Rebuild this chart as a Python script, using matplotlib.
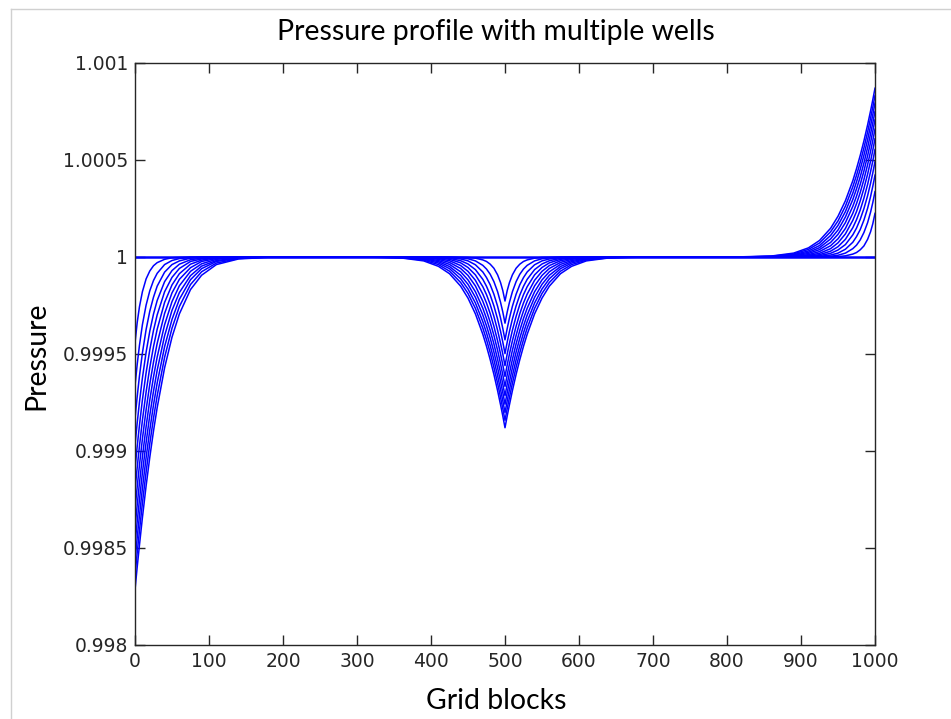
import numpy as np
import matplotlib
matplotlib.use("Agg")
import matplotlib.pyplot as plt
from matplotlib.lines import Line2D

# ---------------- data ----------------
# Deviations from the initial pressure, in units of 1e-5, for 12 successive
# time steps, tabulated against the distance (in grid blocks) from each well.
offsets = [0, 3, 6, 10, 15, 20, 25, 30, 40, 50, 60, 75, 90, 110, 140, 180]

# producer at block 0 (one-sided drawdown)
left_drawdown_1e5 = [
    [44.3, 33.7, 25.7, 17.9, 11.3, 7.2, 4.5, 2.9, 1.2, 0.4, 0.2, 0, 0, 0, 0, 0],
    [66.5, 55.2, 45.6, 34.9, 24.8, 17.4, 12.1, 8.4, 3.9, 1.8, 0.8, 0.2, 0, 0, 0, 0],
    [83.3, 71.8, 61.4, 49.5, 37.4, 27.9, 20.7, 15.0, 7.8, 3.9, 2.0, 0.6, 0.2, 0, 0, 0],
    [97.1, 85.4, 74.9, 62.4, 49.1, 38.2, 29.4, 22.4, 12.7, 7.0, 3.7, 1.4, 0.6, 0.2, 0, 0],
    [109.2, 97.5, 86.8, 73.7, 59.7, 47.8, 37.8, 29.8, 17.9, 10.5, 5.9, 2.3, 1.0, 0.2, 0, 0],
    [120.1, 108.4, 97.5, 84.2, 69.6, 56.9, 46.2, 37.2, 23.4, 14.4, 8.6, 3.7, 1.6, 0.4, 0, 0],
    [130.1, 118.4, 107.4, 93.8, 78.8, 65.5, 54.2, 44.5, 29.1, 18.5, 11.5, 5.5, 2.3, 0.8, 0.2, 0],
    [139.4, 127.7, 116.6, 103.0, 87.4, 73.7, 61.8, 51.5, 34.9, 23.0, 14.8, 7.4, 3.5, 1.2, 0.2, 0],
    [148.0, 136.3, 125.2, 111.3, 95.6, 81.5, 69.2, 58.3, 40.6, 27.5, 18.3, 9.6, 4.7, 1.8, 0.4, 0],
    [156.4, 144.5, 133.4, 119.3, 103.4, 89.1, 76.2, 64.9, 46.2, 32.2, 21.8, 11.7, 6.0, 2.3, 0.6, 0],
    [164.2, 152.3, 141.2, 126.9, 110.8, 96.1, 83.1, 71.4, 51.7, 36.7, 25.5, 14.2, 7.6, 3.1, 0.8, 0],
    [171.6, 159.7, 148.6, 134.4, 118.0, 103.2, 89.7, 77.6, 57.1, 41.3, 29.3, 16.8, 9.4, 3.9, 1.0, 0.2],
]

# producer at block 500 (symmetric drawdown on both sides)
mid_drawdown_1e5 = [
    [22.7, 17.3, 13.2, 9.2, 5.8, 3.7, 2.3, 1.5, 0.6, 0.2, 0.1, 0, 0, 0, 0, 0],
    [34.1, 28.3, 23.4, 17.9, 12.7, 8.9, 6.2, 4.3, 2.0, 0.9, 0.4, 0.1, 0, 0, 0, 0],
    [42.7, 36.8, 31.5, 25.4, 19.2, 14.3, 10.6, 7.7, 4.0, 2.0, 1.0, 0.3, 0.1, 0, 0, 0],
    [49.8, 43.8, 38.4, 32.0, 25.2, 19.6, 15.1, 11.5, 6.5, 3.6, 1.9, 0.7, 0.3, 0.1, 0, 0],
    [56.0, 50.0, 44.5, 37.8, 30.6, 24.5, 19.4, 15.3, 9.2, 5.4, 3.0, 1.2, 0.5, 0.1, 0, 0],
    [61.6, 55.6, 50.0, 43.2, 35.7, 29.2, 23.7, 19.1, 12.0, 7.4, 4.4, 1.9, 0.8, 0.2, 0, 0],
    [66.7, 60.7, 55.1, 48.1, 40.4, 33.6, 27.8, 22.8, 14.9, 9.5, 5.9, 2.8, 1.2, 0.4, 0.1, 0],
    [71.5, 65.5, 59.8, 52.8, 44.8, 37.8, 31.7, 26.4, 17.9, 11.8, 7.6, 3.8, 1.8, 0.6, 0.1, 0],
    [75.9, 69.9, 64.2, 57.1, 49.0, 41.8, 35.5, 29.9, 20.8, 14.1, 9.4, 4.9, 2.4, 0.9, 0.2, 0],
    [80.2, 74.1, 68.4, 61.2, 53.0, 45.7, 39.1, 33.3, 23.7, 16.5, 11.2, 6.0, 3.1, 1.2, 0.3, 0],
    [84.2, 78.1, 72.4, 65.1, 56.8, 49.3, 42.6, 36.6, 26.5, 18.8, 13.1, 7.3, 3.9, 1.6, 0.4, 0],
    [88.0, 81.9, 76.2, 68.9, 60.5, 52.9, 46.0, 39.8, 29.3, 21.2, 15.0, 8.6, 4.8, 2.0, 0.5, 0.1],
]

# injector at block 1000 (one-sided pressure rise)
right_rise_1e5 = [
    [22.5, 17.1, 13.0, 9.1, 5.7, 3.7, 2.3, 1.5, 0.6, 0.2, 0.1, 0, 0, 0, 0, 0],
    [33.7, 28.0, 23.1, 17.7, 12.6, 8.8, 6.1, 4.3, 2.0, 0.9, 0.4, 0.1, 0, 0, 0, 0],
    [42.2, 36.4, 31.1, 25.1, 19.0, 14.1, 10.5, 7.6, 4.0, 2.0, 1.0, 0.3, 0.1, 0, 0, 0],
    [49.2, 43.3, 38.0, 31.6, 24.9, 19.4, 14.9, 11.4, 6.4, 3.6, 1.9, 0.7, 0.3, 0.1, 0, 0],
    [55.4, 49.4, 44.0, 37.4, 30.3, 24.2, 19.2, 15.1, 9.1, 5.3, 3.0, 1.2, 0.5, 0.1, 0, 0],
    [60.9, 55.0, 49.4, 42.7, 35.3, 28.9, 23.4, 18.9, 11.9, 7.3, 4.3, 1.9, 0.8, 0.2, 0, 0],
    [65.9, 60.0, 54.5, 47.6, 39.9, 33.2, 27.5, 22.5, 14.7, 9.4, 5.8, 2.8, 1.2, 0.4, 0.1, 0],
    [70.7, 64.8, 59.1, 52.2, 44.3, 37.4, 31.3, 26.1, 17.7, 11.7, 7.5, 3.8, 1.8, 0.6, 0.1, 0],
    [75.0, 69.1, 63.5, 56.4, 48.4, 41.3, 35.1, 29.6, 20.6, 13.9, 9.3, 4.8, 2.4, 0.9, 0.2, 0],
    [79.3, 73.3, 67.6, 60.5, 52.4, 45.2, 38.7, 32.9, 23.4, 16.3, 11.1, 5.9, 3.1, 1.2, 0.3, 0],
    [83.2, 77.2, 71.6, 64.4, 56.2, 48.7, 42.1, 36.2, 26.2, 18.6, 13.0, 7.2, 3.9, 1.6, 0.4, 0],
    [87.0, 81.0, 75.3, 68.1, 59.8, 52.3, 45.5, 39.3, 29.0, 21.0, 14.8, 8.5, 4.7, 2.0, 0.5, 0.1],
]

well_positions = [0, 500, 1000]
initial_pressure = 1.0
x_ticks = [0, 100, 200, 300, 400, 500, 600, 700, 800, 900, 1000]
y_ticks = [0.998, 0.9985, 0.999, 0.9995, 1.0, 1.0005, 1.001]
y_tick_labels = ["0.998", "0.9985", "0.999", "0.9995", "1", "1.0005", "1.001"]

title = "Pressure profile with multiple wells"
xlabel = "Grid blocks"
ylabel = "Pressure"

# ---------------- figure ----------------
W, H = 951, 719
fig = plt.figure(figsize=(W / 100, H / 100), dpi=100)
ax = fig.add_axes([135 / W, 1 - 645 / H, (875 - 135) / W, (645 - 63) / H])

blue = (0, 0, 1)
lw = 1.1
d = np.array(offsets, float)

# initial (flat) profile
ax.plot([0, 1000], [initial_pressure, initial_pressure], color=blue, lw=1.8)

for k in range(len(mid_drawdown_1e5)):
    L = np.array(left_drawdown_1e5[k]) * 1e-5
    M = np.array(mid_drawdown_1e5[k]) * 1e-5
    R = np.array(right_rise_1e5[k]) * 1e-5
    xs = np.concatenate([
        well_positions[0] + d,
        well_positions[1] - d[::-1], well_positions[1] + d[1:],
        well_positions[2] - d[::-1],
    ])
    ys = np.concatenate([
        initial_pressure - L,
        initial_pressure - M[::-1], initial_pressure - M[1:],
        initial_pressure + R[::-1],
    ])
    ax.plot(xs, ys, color=blue, lw=lw)

ax.set_xlim(0, 1000)
ax.set_ylim(0.998, 1.001)
ax.set_xticks(x_ticks)
ax.set_xticklabels([str(t) for t in x_ticks])
ax.set_yticks(y_ticks)
ax.set_yticklabels(y_tick_labels)
for lab in ax.get_xticklabels() + ax.get_yticklabels():
    lab.set_fontfamily("DejaVu Sans")
    lab.set_fontsize(13.5)
    lab.set_color("#262626")

ax.tick_params(direction="in", length=7, width=1, top=True, right=True,
               color="#262626", pad=5)
for s in ax.spines.values():
    s.set_color("#262626")
    s.set_linewidth(1.0)

lf = dict(family="Lato", size=20.4, color="black")
fig.text(496 / W, 1 - 40 / H, title, ha="center", va="baseline", **lf)
fig.text(496 / W, 1 - 709 / H, xlabel, ha="center", va="baseline", **lf)
fig.text(36 / W, 1 - 356 / H, ylabel, ha="center", va="center", rotation=90, **lf)

# light frame of the screenshot
fig.add_artist(Line2D([10.5 / W, 1], [1 - 8.5 / H, 1 - 8.5 / H], color="#d0d0d0", lw=1,
                      transform=fig.transFigure))
fig.add_artist(Line2D([10.5 / W, 10.5 / W], [0, 1 - 8.5 / H], color="#d0d0d0", lw=1,
                      transform=fig.transFigure))

fig.savefig("out.png", dpi=100)
